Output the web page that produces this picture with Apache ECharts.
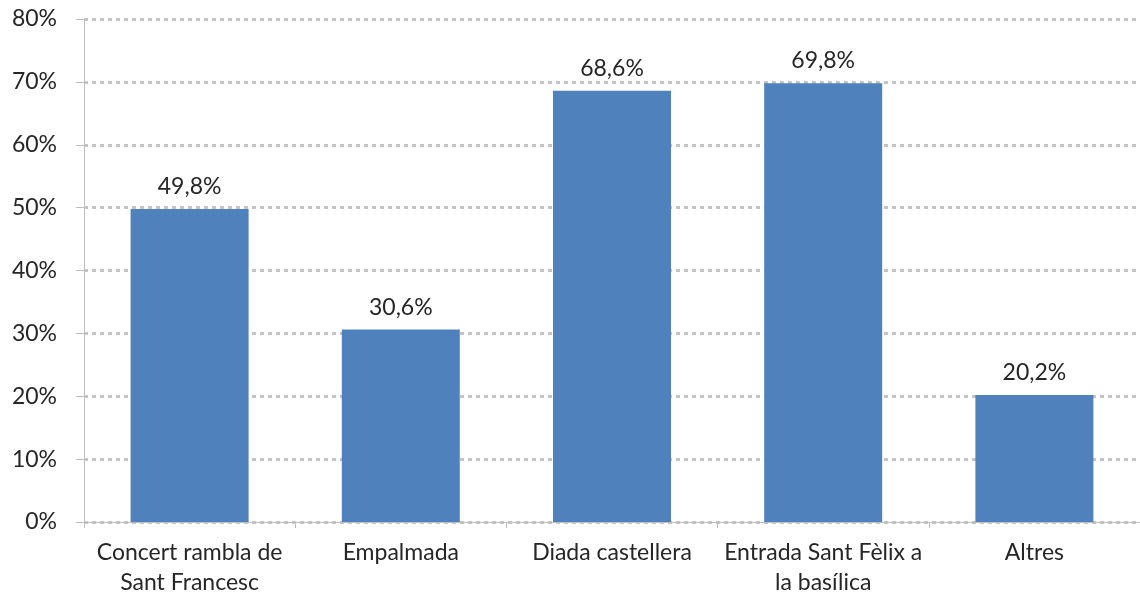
<!DOCTYPE html>
<html><head><meta charset="utf-8">
<script src="https://cdn.jsdelivr.net/npm/echarts@6/dist/echarts.min.js"></script>
<style>html,body{margin:0;padding:0;background:#fff}#c{width:1140px;height:598px}</style>
</head><body><div id="c"></div>
<script>
const categories = ["Concert rambla de\nSant Francesc", "Empalmada", "Diada castellera", "Entrada Sant Fèlix a\nla basílica", "Altres"];
const values = [49.8, 30.6, 68.6, 69.8, 20.2];
const yTicks = [0, 10, 20, 30, 40, 50, 60, 70, 80];

const chart = echarts.init(document.getElementById('c'));
const font = 'Lato, "Open Sans", sans-serif';
chart.setOption({
  animation: false,
  grid: { left: 84, right: -5, top: 19, bottom: 75, containLabel: false },
  xAxis: {
    type: 'category', data: categories,
    axisLine: { lineStyle: { color: '#bfbfbf', width: 1 } },
    axisTick: { show: true, alignWithLabel: false, length: 6, lineStyle: { color: '#bfbfbf' } },
    axisLabel: { color: '#262626', fontSize: 23, fontFamily: font, margin: 16, lineHeight: 30, interval: 0 }
  },
  yAxis: {
    type: 'value', min: yTicks[0], max: yTicks[yTicks.length - 1], interval: 10,
    axisLine: { show: true, lineStyle: { color: '#bfbfbf', width: 1 } },
    axisTick: { show: true, inside: false, length: 8, lineStyle: { color: '#bfbfbf' } },
    splitLine: { show: true, lineStyle: { color: '#c4c4c4', type: [4, 4], width: 3 } },
    axisLabel: { color: '#262626', fontSize: 23, fontFamily: font, margin: 27, formatter: v => v + '%' }
  },
  series: [{
    type: 'bar', data: values, barWidth: 118,
    itemStyle: { color: '#4f81bd' },
    label: { show: true, position: 'top', distance: 11, color: '#262626', fontSize: 23, fontFamily: font,
      formatter: p => p.value.toFixed(1).replace('.', ',') + '%' }
  }]
});
</script></body></html>
